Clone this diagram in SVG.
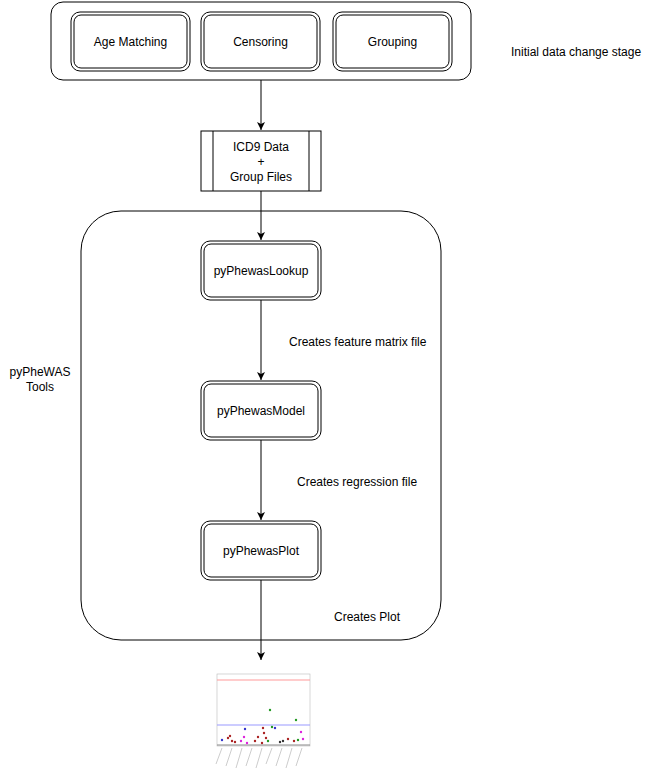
<svg xmlns="http://www.w3.org/2000/svg" width="653" height="776" viewBox="0 0 653 776">
<style>
text{font-family:"Liberation Sans",Arial,sans-serif;font-size:12px;fill:#000}
.b{fill:#fff;stroke:#000;stroke-width:1}
.c{fill:none;stroke:#000;stroke-width:1}
.t{text-anchor:middle}
</style>
<defs><marker id="a" markerWidth="10" markerHeight="10" refX="8" refY="5" orient="auto" markerUnits="userSpaceOnUse"><path d="M0,1 L8,5 L0,9 L2,5 Z" fill="#000"/></marker></defs>
<rect width="653" height="776" fill="#fff"/>
<g id="stage"><rect class="b" x="51" y="2" width="420" height="78" rx="12"/></g>
<g id="age"><rect class="b" x="71" y="12" width="119" height="59" rx="9"/><rect class="c" x="74" y="15" width="113" height="53" rx="7"/><text class="t" x="130.5" y="46">Age Matching</text></g>
<g id="cens"><rect class="b" x="201" y="12" width="119" height="59" rx="9"/><rect class="c" x="204" y="15" width="113" height="53" rx="7"/><text class="t" x="260.5" y="46">Censoring</text></g>
<g id="grp"><rect class="b" x="333" y="12" width="119" height="59" rx="9"/><rect class="c" x="336" y="15" width="113" height="53" rx="7"/><text class="t" x="392.5" y="46">Grouping</text></g>
<text x="511" y="56">Initial data change stage</text>
<g id="icd"><rect class="b" x="201" y="131" width="120" height="60"/><line class="c" x1="213" y1="131" x2="213" y2="191"/><line class="c" x1="309" y1="131" x2="309" y2="191"/><text class="t" x="261" y="151">ICD9 Data</text><text class="t" x="261" y="166">+</text><text class="t" x="261" y="181">Group Files</text></g>
<g id="tools"><rect class="b" x="81" y="211" width="360" height="429" rx="40"/></g>
<text class="t" x="40" y="376">pyPheWAS</text><text class="t" x="40" y="391">Tools</text>
<g id="lookup"><rect class="b" x="201" y="241" width="120" height="59" rx="9"/><rect class="c" x="204" y="244" width="114" height="53" rx="7"/><text class="t" x="261" y="275">pyPhewasLookup</text></g>
<g id="model"><rect class="b" x="201" y="381" width="120" height="59" rx="9"/><rect class="c" x="204" y="384" width="114" height="53" rx="7"/><text class="t" x="261" y="415">pyPhewasModel</text></g>
<g id="plot"><rect class="b" x="201" y="521" width="120" height="59" rx="9"/><rect class="c" x="204" y="524" width="114" height="53" rx="7"/><text class="t" x="261" y="555">pyPhewasPlot</text></g>
<text x="289" y="346">Creates feature matrix file</text>
<text x="297" y="486">Creates regression file</text>
<text x="334" y="621">Creates Plot</text>
<g id="connectors" class="c">
<line class="c" x1="261" y1="80" x2="261" y2="130" marker-end="url(#a)"/>
<line class="c" x1="261" y1="191" x2="261" y2="240" marker-end="url(#a)"/>
<line class="c" x1="261" y1="300" x2="261" y2="380" marker-end="url(#a)"/>
<line class="c" x1="261" y1="440" x2="261" y2="520" marker-end="url(#a)"/>
<line class="c" x1="261" y1="580" x2="261" y2="660" marker-end="url(#a)"/>
</g>
<g id="chart">
<rect x="217" y="674" width="93" height="72" fill="#fff" stroke="#bbb" stroke-width="0.6"/>
<line x1="217" y1="680" x2="310" y2="680" stroke="#f99" stroke-width="1"/>
<line x1="217" y1="725" x2="310" y2="725" stroke="#99f" stroke-width="1.2"/>
<line x1="217" y1="745" x2="310" y2="745" stroke="#888" stroke-width="1"/>
<g fill="#a22"><circle cx="228" cy="738" r="1.2"/><circle cx="232" cy="741" r="1.2"/><circle cx="230" cy="736" r="1.2"/><circle cx="235" cy="742" r="1.2"/><circle cx="255" cy="741" r="1.2"/><circle cx="258" cy="737" r="1.2"/><circle cx="262" cy="743" r="1.2"/><circle cx="264" cy="733" r="1.2"/><circle cx="266" cy="738" r="1.2"/><circle cx="288" cy="739" r="1.2"/><circle cx="294" cy="741" r="1.2"/><circle cx="263" cy="728" r="1.2"/></g>
<g fill="#d2d"><circle cx="241" cy="741" r="1.2"/><circle cx="244" cy="737" r="1.2"/><circle cx="247" cy="743" r="1.2"/><circle cx="301" cy="732" r="1.2"/><circle cx="303" cy="739" r="1.2"/></g>
<g fill="#292"><circle cx="270" cy="710" r="1.2"/><circle cx="268" cy="741" r="1.2"/><circle cx="272" cy="727" r="1.2"/><circle cx="296" cy="720" r="1.2"/><circle cx="298" cy="740" r="1.2"/></g>
<g fill="#33c"><circle cx="222" cy="740" r="1.2"/><circle cx="245" cy="729" r="1.2"/><circle cx="275" cy="728" r="1.2"/></g>
<g fill="#333"><circle cx="280" cy="742" r="1.2"/><circle cx="283" cy="741" r="1.2"/></g>
<g stroke="#999" stroke-width="0.5"><line x1="222" y1="748" x2="216" y2="764"/><line x1="232" y1="748" x2="226" y2="766"/><line x1="242" y1="748" x2="236" y2="768"/><line x1="252" y1="748" x2="246" y2="766"/><line x1="262" y1="748" x2="256" y2="768"/><line x1="272" y1="748" x2="266" y2="764"/><line x1="282" y1="748" x2="276" y2="766"/><line x1="292" y1="748" x2="286" y2="768"/><line x1="302" y1="748" x2="296" y2="766"/></g>
</g>
</svg>
